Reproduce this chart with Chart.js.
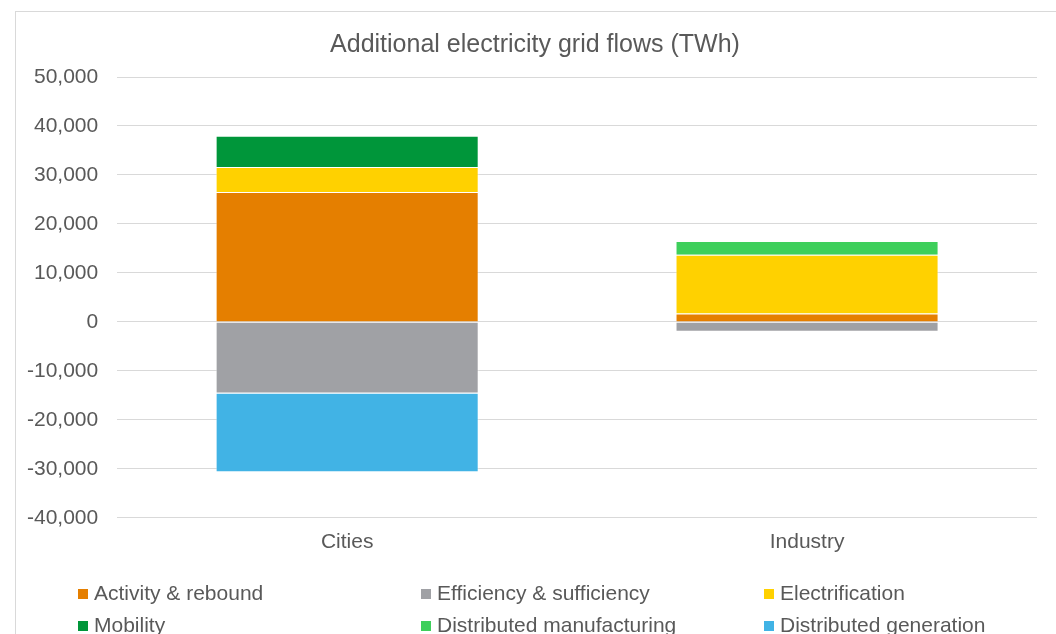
<!DOCTYPE html>
<html>
<head>
<meta charset="utf-8">
<script src="https://cdn.jsdelivr.net/npm/chart.js@4/dist/chart.umd.min.js"></script>
<style>
  html, body { margin: 0; padding: 0; background: #fff; overflow: hidden; }
  #wrap { position: relative; width: 1056px; height: 634px; }
  #frame { position: absolute; left: 15px; top: 11px; width: 1100px; height: 700px;
           border-left: 1px solid #d9d9d9; border-top: 1px solid #d9d9d9; }
  #chart { position: absolute; left: 0; top: 0; }
  #title { position: absolute; left: 35px; width: 1000px; top: 28px; text-align: center;
           font-family: "Liberation Sans", Arial, sans-serif; font-size: 25px; line-height: 30px; color: #595959; }
  #legend { position: absolute; left: 78px; top: 578px; width: 1000px;
            font-family: "Liberation Sans", Arial, sans-serif; font-size: 21px; color: #595959; }
  .item { position: absolute; white-space: nowrap; line-height: 30px; }
  .item span.box { display: inline-block; width: 10px; height: 10px; margin-right: 6px; vertical-align: 1px; }
</style>
</head>
<body>
<div id="wrap">
  <div id="frame"></div>
  <canvas id="chart" width="1056" height="634"></canvas>
  <div id="title">Additional electricity grid flows (TWh)</div>
  <div id="legend"></div>
</div>
<script>
const categories = ["Cities", "Industry"];

const activityRebound = [26500, 1700];
const efficiencySufficiency = [-14600, -2000];
const electrification = [5100, 12000];
const mobility = [6400, 0];
const distributedManufacturing = [0, 2800];
const distributedGeneration = [-16100, 0];

const seriesNames = [
  "Activity & rebound",
  "Efficiency & sufficiency",
  "Electrification",
  "Mobility",
  "Distributed manufacturing",
  "Distributed generation"
];
const seriesValues = [
  activityRebound,
  efficiencySufficiency,
  electrification,
  mobility,
  distributedManufacturing,
  distributedGeneration
];
const colors = ["#E57F00", "#A0A1A5", "#FFD100", "#00963A", "#3ECF5B", "#41B3E5"];

const yTicks = { min: -40000, max: 50000, step: 10000 };

const font = "'Liberation Sans', Arial, sans-serif";
const textColor = "#595959";

const datasets = seriesNames.map((name, i) => ({
  label: name,
  data: seriesValues[i],
  backgroundColor: colors[i],
  borderColor: "rgba(255,255,255,0.45)",
  borderWidth: 1,
  stack: "grid"
}));

// title is drawn as a div above the canvas, so leave room for it at the top
const chart = new Chart(document.getElementById("chart"), {
  type: "bar",
  data: { labels: categories, datasets: datasets },
  options: {
    responsive: false,
    animation: false,
    layout: { padding: { left: 8, right: 19, top: 77, bottom: 67 } },
    datasets: { bar: { categoryPercentage: 1, barPercentage: 0.572 } },
    plugins: {
      legend: { display: false },
      tooltip: { enabled: false },
      title: { display: false }
    },
    scales: {
      x: {
        stacked: true,
        grid: { display: false, drawTicks: false },
        border: { display: false },
        ticks: { color: textColor, font: { family: font, size: 21 }, padding: 12 }
      },
      y: {
        stacked: true,
        min: yTicks.min,
        max: yTicks.max,
        grid: { color: "#d9d9d9", drawTicks: false },
        border: { display: false },
        ticks: {
          stepSize: yTicks.step,
          color: textColor,
          font: { family: font, size: 21 },
          padding: 19,
          callback: v => v.toLocaleString("en-US")
        }
      }
    }
  }
});

// three-column legend under the plot
const legend = document.getElementById("legend");
chart.data.datasets.forEach((ds, i) => {
  const el = document.createElement("div");
  el.className = "item";
  el.style.left = (i % 3) * 343 + "px";
  el.style.top = Math.floor(i / 3) * 32 + "px";
  el.innerHTML = '<span class="box" style="background:' + ds.backgroundColor + '"></span>' + ds.label;
  legend.appendChild(el);
});
</script>
</body>
</html>
